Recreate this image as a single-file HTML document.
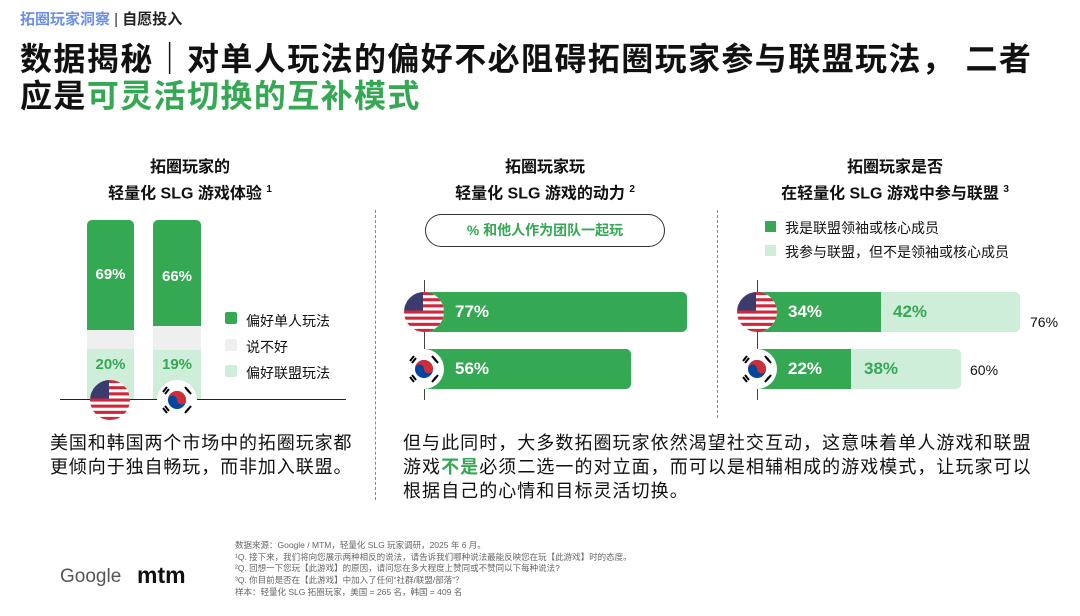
<!DOCTYPE html>
<html><head><meta charset="utf-8">
<style>
*{margin:0;padding:0;box-sizing:border-box}
body{width:1080px;height:616px;background:#fff;position:relative;overflow:hidden;font-family:"Liberation Sans","Noto Sans CJK SC",sans-serif;color:#111}
.a{position:absolute;white-space:nowrap}
.b{font-weight:bold}
.c{text-align:center}
.w{color:#fff;font-weight:bold;font-size:17px}
.g{color:#34a853}
</style></head><body>
<div class="a b" style="left:20px;top:8px;font-size:15px;color:#6b8fe6">拓圈玩家洞察 <span style="color:#333;font-weight:normal">|</span> <span style="color:#222">自愿投入</span></div>
<div class="a b" style="left:20px;top:41px;font-size:32px;line-height:37px;letter-spacing:1.4px;color:#111">数据揭秘｜对单人玩法的偏好不必阻碍拓圈玩家参与联盟玩法， 二者<br>应是<span class="g">可灵活切换的互补模式</span></div>

<div class="a b c" style="left:80px;width:220px;top:157px;font-size:16px;line-height:22px">拓圈玩家的<br>轻量化 SLG 游戏体验 <sup style="font-size:10px">1</sup></div>
<div class="a b c" style="left:410px;width:270px;top:157px;font-size:16px;line-height:22px">拓圈玩家玩<br>轻量化 SLG 游戏的动力 <sup style="font-size:10px">2</sup></div>
<div class="a b c" style="left:745px;width:300px;top:157px;font-size:16px;line-height:22px">拓圈玩家是否<br>在轻量化 SLG 游戏中参与联盟 <sup style="font-size:10px">3</sup></div>

<div class="a" style="left:375px;top:210px;height:290px;border-left:1px dashed #888"></div>
<div class="a" style="left:717px;top:210px;height:208px;border-left:1px dashed #888"></div>

<!-- chart 1 -->
<div class="a" style="left:87px;top:220px;width:47px;height:110px;background:#34a853;border-radius:5px 5px 0 0"></div>
<div class="a" style="left:87px;top:330px;width:47px;height:19px;background:#efefef"></div>
<div class="a" style="left:87px;top:349px;width:47px;height:50px;background:#cfeeda"></div>
<div class="a" style="left:153px;top:220px;width:48px;height:106px;background:#34a853;border-radius:5px 5px 0 0"></div>
<div class="a" style="left:153px;top:326px;width:48px;height:24px;background:#efefef"></div>
<div class="a" style="left:153px;top:350px;width:48px;height:49px;background:#cfeeda"></div>
<div class="a w c" style="left:87px;width:47px;top:266px;font-size:15px">69%</div>
<div class="a w c" style="left:153px;width:48px;top:268px;font-size:15px">66%</div>
<div class="a b c g" style="left:87px;width:47px;top:356px;font-size:15px">20%</div>
<div class="a b c g" style="left:153px;width:48px;top:356px;font-size:15px">19%</div>
<div class="a" style="left:60px;top:399px;width:286px;height:1px;background:#222"></div>
<div class="a" style="left:225px;top:312px;width:12px;height:12px;background:#34a853;border-radius:2px"></div>
<div class="a" style="left:225px;top:339px;width:12px;height:12px;background:#efefef;border-radius:2px"></div>
<div class="a" style="left:225px;top:365px;width:12px;height:12px;background:#cfeeda;border-radius:2px"></div>
<div class="a" style="left:246px;top:308px;font-size:14px;line-height:26px">偏好单人玩法<br>说不好<br>偏好联盟玩法</div>

<svg width="0" height="0" style="position:absolute"><defs>
<symbol id="us" viewBox="0 0 40 40"><clipPath id="cc"><circle cx="20" cy="20" r="20"/></clipPath><g clip-path="url(#cc)"><rect width="40" height="40" fill="#fff"/><g fill="#d0283a"><rect y="0" width="40" height="3.1"/><rect y="6.2" width="40" height="3.1"/><rect y="12.3" width="40" height="3.1"/><rect y="18.5" width="40" height="3.1"/><rect y="24.6" width="40" height="3.1"/><rect y="30.8" width="40" height="3.1"/><rect y="36.9" width="40" height="3.1"/></g><rect width="19" height="18.5" fill="#3c3b6e"/></g></symbol>
<symbol id="kr" viewBox="0 0 40 40"><circle cx="20" cy="20" r="20" fill="#fff"/><circle cx="20" cy="20" r="9" fill="#0047a0"/><path d="M11 20a9 9 0 0 1 18 0a4.5 4.5 0 0 1-9 0a4.5 4.5 0 0 0-9 0z" fill="#cd2e3a"/><g stroke="#000" stroke-width="2"><path d="M6 12l4-5M8 14l4-5M28 7l4 5M30 9l4 5M6 28l4 5M8 26l4 5M28 33l4-5M30 31l4-5"/></g></symbol>
</defs></svg>
<svg class="a" style="left:90px;top:380px" width="40" height="40"><use href="#us"/></svg>
<svg class="a" style="left:157px;top:380px" width="40" height="40"><use href="#kr"/></svg>

<!-- chart 2 -->
<div class="a b c g" style="left:425px;top:214px;width:240px;height:33px;border:1.5px solid #333;border-radius:17px;font-size:14px;line-height:30px">% 和他人作为团队一起玩</div>
<div class="a" style="left:424px;top:280px;width:1px;height:120px;background:#444"></div>
<div class="a" style="left:424px;top:292px;width:263px;height:40px;background:#34a853;border-radius:0 5px 5px 0"></div>
<div class="a" style="left:424px;top:349px;width:207px;height:40px;background:#34a853;border-radius:0 5px 5px 0"></div>
<div class="a w" style="left:455px;top:302px">77%</div>
<div class="a w" style="left:455px;top:359px">56%</div>
<svg class="a" style="left:404px;top:292px" width="40" height="40"><use href="#us"/></svg>
<svg class="a" style="left:404px;top:349px" width="40" height="40"><use href="#kr"/></svg>

<!-- chart 3 -->
<div class="a" style="left:765px;top:221px;width:11px;height:11px;background:#34a853"></div>
<div class="a" style="left:765px;top:245px;width:11px;height:11px;background:#cfeeda"></div>
<div class="a" style="left:785px;top:216px;font-size:14px;line-height:24px">我是联盟领袖或核心成员<br>我参与联盟，但不是领袖或核心成员</div>
<div class="a" style="left:757px;top:280px;width:1px;height:120px;background:#444"></div>
<div class="a" style="left:757px;top:292px;width:263px;height:40px;background:#cfeeda;border-radius:0 5px 5px 0"></div>
<div class="a" style="left:757px;top:292px;width:124px;height:40px;background:#34a853"></div>
<div class="a" style="left:757px;top:349px;width:204px;height:40px;background:#cfeeda;border-radius:0 5px 5px 0"></div>
<div class="a" style="left:757px;top:349px;width:94px;height:40px;background:#34a853"></div>
<div class="a w" style="left:788px;top:302px">34%</div>
<div class="a b g" style="left:893px;top:302px;font-size:17px">42%</div>
<div class="a w" style="left:788px;top:359px">22%</div>
<div class="a b g" style="left:864px;top:359px;font-size:17px">38%</div>
<div class="a" style="left:1030px;top:314px;font-size:14px">76%</div>
<div class="a" style="left:970px;top:362px;font-size:14px">60%</div>
<svg class="a" style="left:737px;top:292px" width="40" height="40"><use href="#us"/></svg>
<svg class="a" style="left:737px;top:349px" width="40" height="40"><use href="#kr"/></svg>

<div class="a" style="left:50px;top:431px;font-size:18px;line-height:24px;letter-spacing:0.9px">美国和韩国两个市场中的拓圈玩家都<br>更倾向于独自畅玩，而非加入联盟。</div>
<div class="a" style="left:403px;top:431px;font-size:18px;line-height:24px;letter-spacing:1.05px">但与此同时，大多数拓圈玩家依然渴望社交互动，这意味着单人游戏和联盟<br>游戏<span class="g b">不是</span>必须二选一的对立面，而可以是相辅相成的游戏模式，让玩家可以<br>根据自己的心情和目标灵活切换。</div>

<div class="a" style="left:60px;top:566px;font-size:19px;color:#555">Google</div>
<div class="a b" style="left:137px;top:562px;font-size:23px;color:#111">mtm</div>
<div class="a" style="left:235px;top:540px;font-size:8.5px;line-height:11.7px;color:#666">数据来源：Google / MTM，轻量化 SLG 玩家调研，2025 年 6 月。<br>¹Q. 接下来，我们将向您展示两种相反的说法，请告诉我们哪种说法最能反映您在玩【此游戏】时的态度。<br>²Q. 回想一下您玩【此游戏】的原因，请问您在多大程度上赞同或不赞同以下每种说法?<br>³Q. 你目前是否在【此游戏】中加入了任何“社群/联盟/部落”？<br>样本：轻量化 SLG 拓圈玩家，美国 = 265 名，韩国 = 409 名</div>
</body></html>
